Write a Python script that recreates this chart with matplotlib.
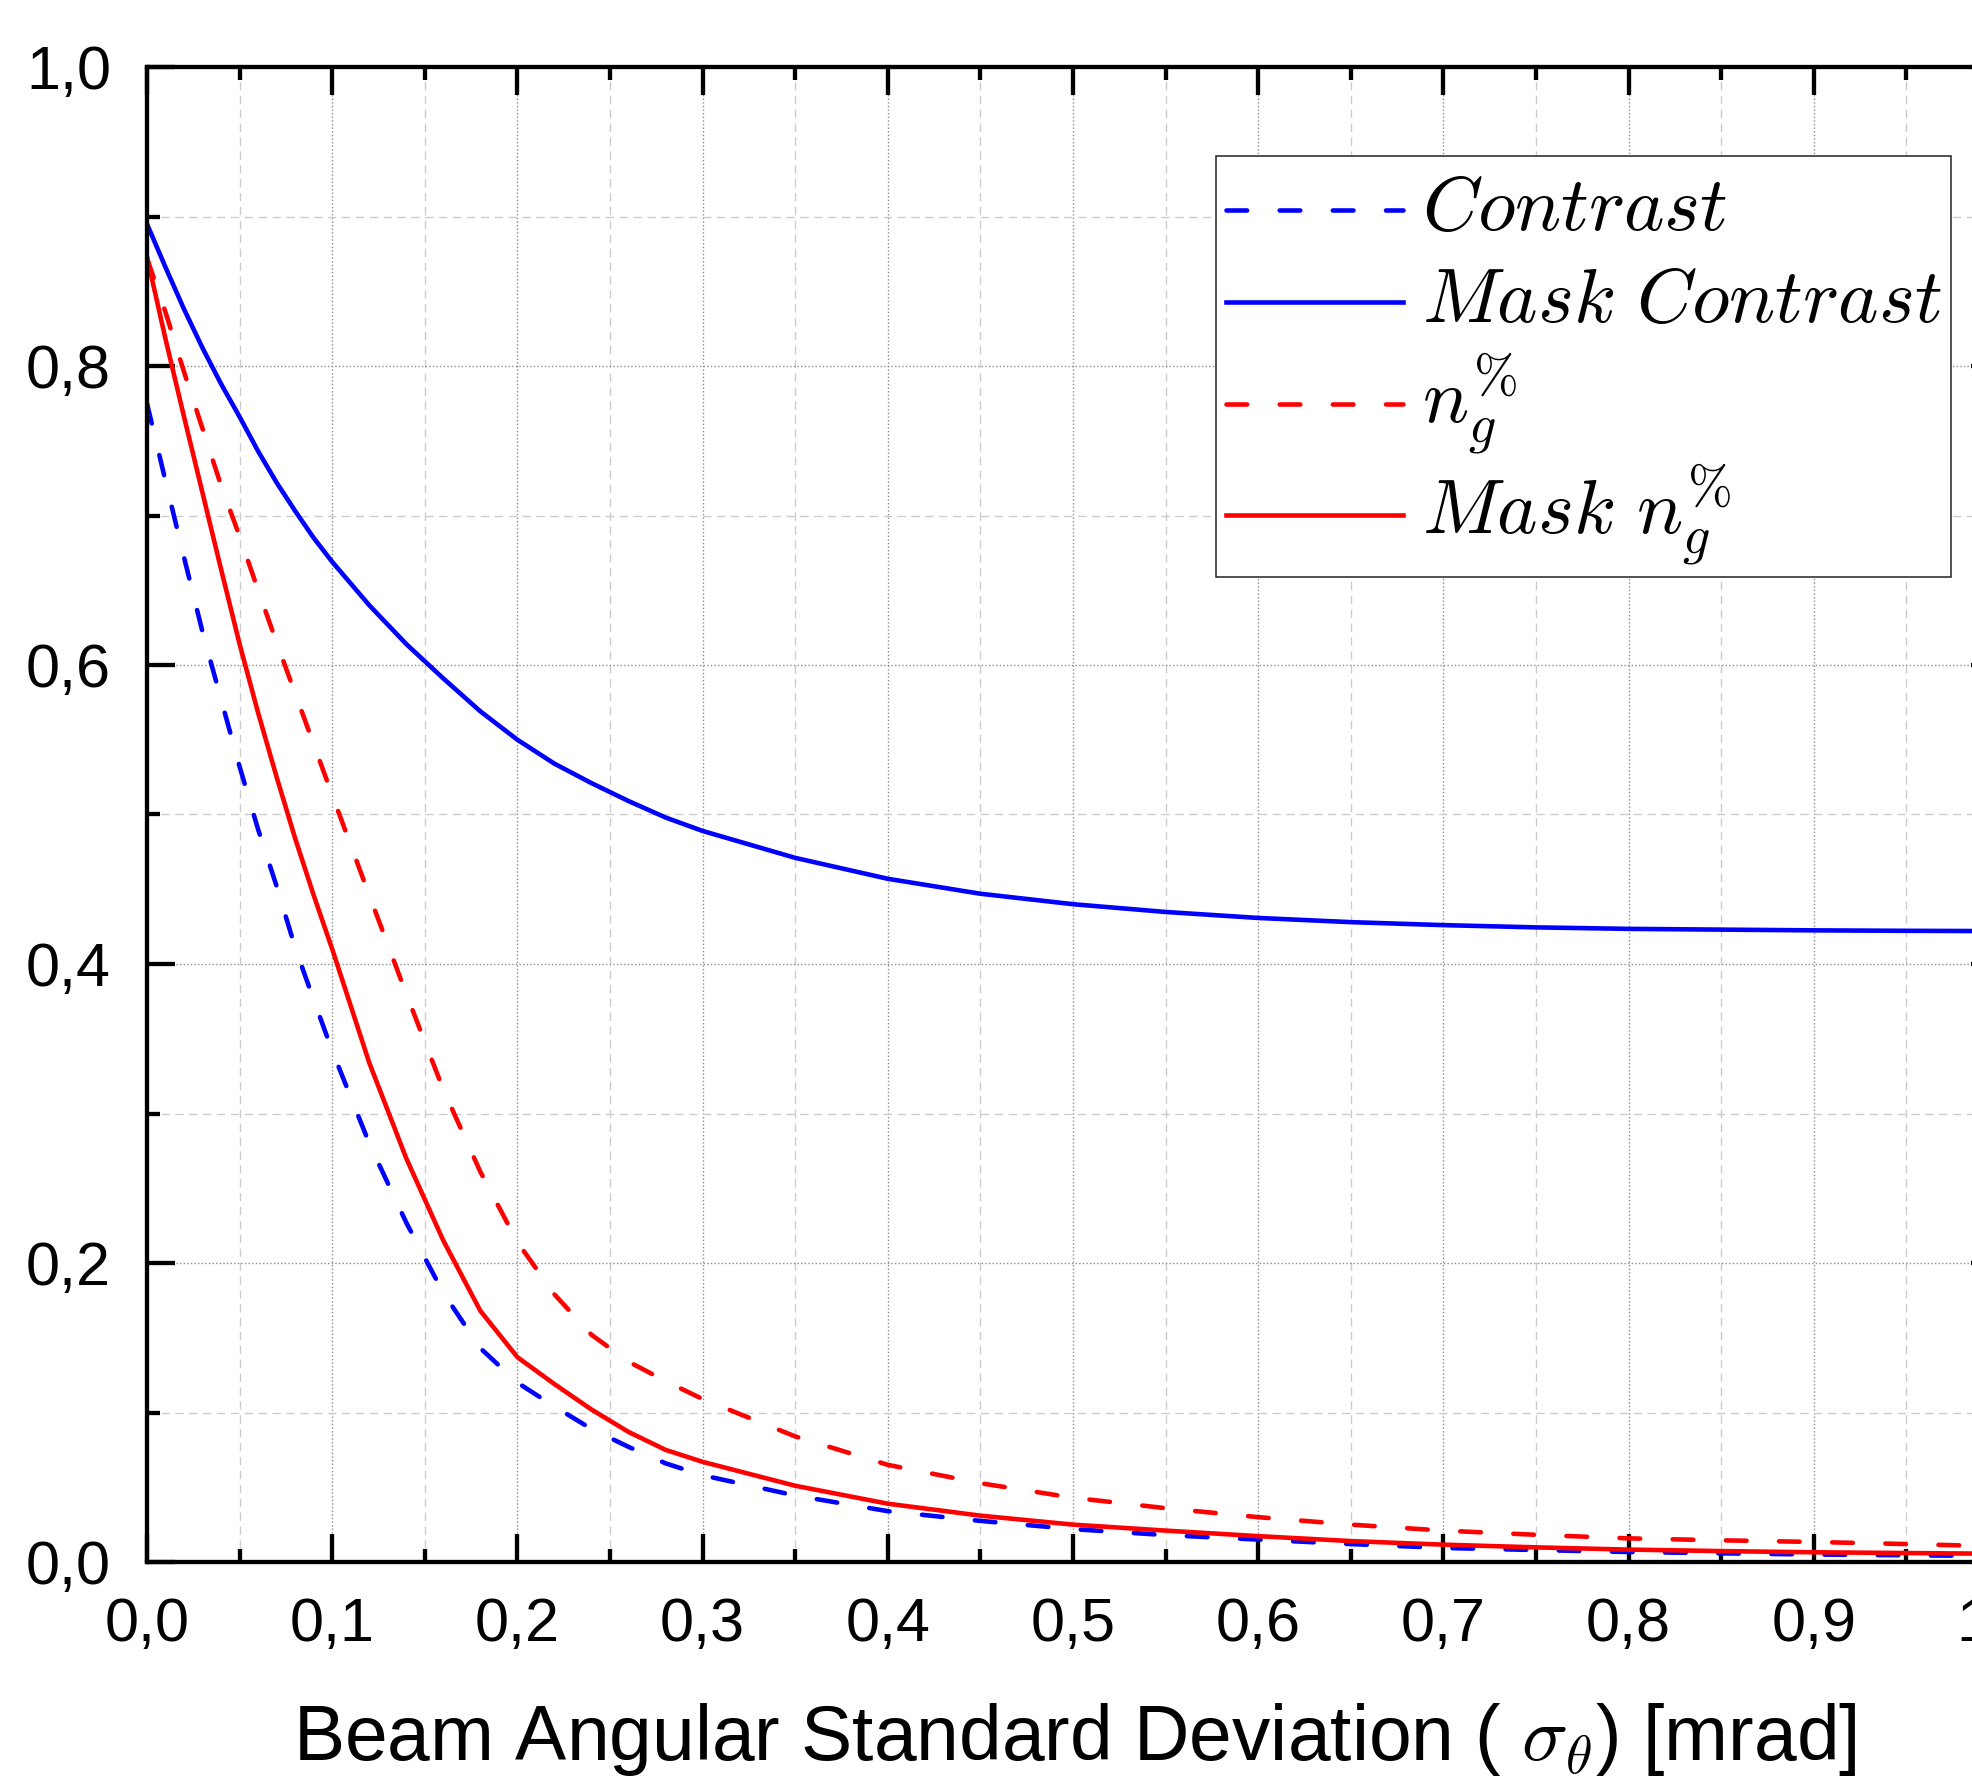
import matplotlib
matplotlib.use('Agg')
import matplotlib.pyplot as plt
from matplotlib.ticker import MultipleLocator, FuncFormatter
from matplotlib.legend_handler import HandlerLine2D

plt.rcParams['font.family'] = ['Liberation Sans', 'DejaVu Sans']
plt.rcParams['mathtext.fontset'] = 'cm'

# ---- data ----
sigma = [0.00, 0.01, 0.02, 0.03, 0.04, 0.05, 0.06, 0.07, 0.08, 0.09, 0.10,
         0.12, 0.14, 0.16, 0.18, 0.20, 0.22, 0.24, 0.26, 0.28, 0.30,
         0.35, 0.40, 0.45, 0.50, 0.55, 0.60, 0.65, 0.70, 0.75, 0.80,
         0.85, 0.90, 0.95, 1.00]
contrast = [0.775, 0.723, 0.672, 0.622, 0.577, 0.532, 0.490, 0.452, 0.411, 0.376, 0.342,
            0.280, 0.227, 0.180, 0.143, 0.120, 0.104, 0.089, 0.077, 0.066, 0.058,
            0.0445, 0.034, 0.0275, 0.022, 0.018, 0.015, 0.012, 0.0094, 0.008, 0.0067,
            0.0058, 0.005, 0.0045, 0.004]
mask_contrast = [0.895, 0.866, 0.838, 0.812, 0.788, 0.766, 0.743, 0.722, 0.703, 0.685, 0.669,
                 0.640, 0.614, 0.591, 0.569, 0.550, 0.534, 0.521, 0.509, 0.498, 0.489,
                 0.471, 0.457, 0.447, 0.440, 0.4348, 0.4308, 0.428, 0.426, 0.4245, 0.4235,
                 0.423, 0.4225, 0.4222, 0.422]
ng = [0.872, 0.836, 0.796, 0.758, 0.720, 0.686, 0.650, 0.615, 0.581, 0.547, 0.513,
      0.446, 0.380, 0.316, 0.261, 0.214, 0.179, 0.152, 0.134, 0.121, 0.109,
      0.084, 0.065, 0.0527, 0.043, 0.036, 0.030, 0.025, 0.021, 0.0182, 0.0158,
      0.0145, 0.0134, 0.012, 0.0105]
mask_ng = [0.873, 0.818, 0.766, 0.715, 0.664, 0.614, 0.568, 0.525, 0.484, 0.446, 0.410,
           0.334, 0.270, 0.215, 0.168, 0.137, 0.119, 0.102, 0.087, 0.075, 0.067,
           0.051, 0.039, 0.031, 0.025, 0.021, 0.0173, 0.014, 0.0116, 0.0098, 0.0083,
           0.0073, 0.0065, 0.006, 0.0055]

labels = [r'$Contrast$', r'$Mask\ Contrast$', r'$n_g^{\%}$', r'$Mask\ n_g^{\%}$']
xlabel = r'Beam Angular Standard Deviation ( $\sigma_\theta$) [mrad]'

W, H = 1972, 1782
fig = plt.figure(figsize=(W / 100, H / 100), dpi=100)
left, right, top, bottom = 147, 1999, 67, 1562
ax = fig.add_axes([left / W, 1 - bottom / H, (right - left) / W, (bottom - top) / H])

lw = 3.3
dash = (4.5, 7.1)
ax.plot(sigma, contrast, color='#0000ff', lw=lw, dashes=dash, dash_capstyle='round', label=labels[0])
ax.plot(sigma, mask_contrast, color='#0000ff', lw=lw, label=labels[1])
ax.plot(sigma, ng, color='#ff0000', lw=lw, dashes=dash, dash_capstyle='round', label=labels[2])
ax.plot(sigma, mask_ng, color='#ff0000', lw=lw, label=labels[3])

ax.set_xlim(0, 1.0)
ax.set_ylim(0, 1.0)
ax.xaxis.set_major_locator(MultipleLocator(0.1))
ax.xaxis.set_minor_locator(MultipleLocator(0.05))
ax.yaxis.set_major_locator(MultipleLocator(0.2))
ax.yaxis.set_minor_locator(MultipleLocator(0.1))
fmt = FuncFormatter(lambda v, p: f'{v:.1f}'.replace('.', ','))
ax.xaxis.set_major_formatter(fmt)
ax.yaxis.set_major_formatter(fmt)

ax.set_axisbelow(True)
ax.grid(which='major', color='#8c8c8c', linestyle=(0, (1, 1.6)), linewidth=1.0)
ax.grid(which='minor', color='#cccccc', linestyle=(0, (6, 4)), linewidth=1.0)

for s in ax.spines.values():
    s.set_linewidth(3.1)
    s.set_color('black')

ax.tick_params(which='both', direction='in', top=True, right=True, width=3.1, color='black')
ax.tick_params(which='major', length=20, labelsize=44)
ax.tick_params(which='minor', length=9.5)
ax.tick_params(axis='x', which='major', pad=25)
ax.tick_params(axis='y', which='major', pad=26)

ax.set_xlabel(xlabel, fontsize=55.3)
ax.xaxis.label.set_va('baseline')
ax.xaxis.set_label_coords((1075 - left) / (right - left), -(1760 - bottom) / (bottom - top))


class ShiftedLine(HandlerLine2D):
    """Legend line moved down a little so it sits on the label's centre."""
    shift = 7.0  # points

    def create_artists(self, legend, orig_handle, xdescent, ydescent,
                       width, height, fontsize, trans):
        arts = super().create_artists(legend, orig_handle, xdescent, ydescent,
                                      width, height, fontsize, trans)
        for a in arts:
            a.set_ydata([v - self.shift for v in a.get_ydata()])
        return arts


handles = ax.get_lines()
leg = ax.legend(handles=handles, labels=labels,
                loc='upper right', bbox_to_anchor=(1951 / W, 1 - 156 / H),
                bbox_transform=fig.transFigure, borderaxespad=0, fontsize=55.5,
                handlelength=2.3, handletextpad=0.25, borderpad=0.12,
                handleheight=1.38, labelspacing=0.06,
                fancybox=False, framealpha=1.0,
                handler_map={h: ShiftedLine() for h in handles})
# centre each handle on its label, as in the reference
for col in leg._legend_handle_box.get_children():
    for row in col.get_children():
        row.align = 'center'
leg.get_frame().set_edgecolor('#222222')
leg.get_frame().set_linewidth(1.1)

fig.savefig('out.png', dpi=100)
